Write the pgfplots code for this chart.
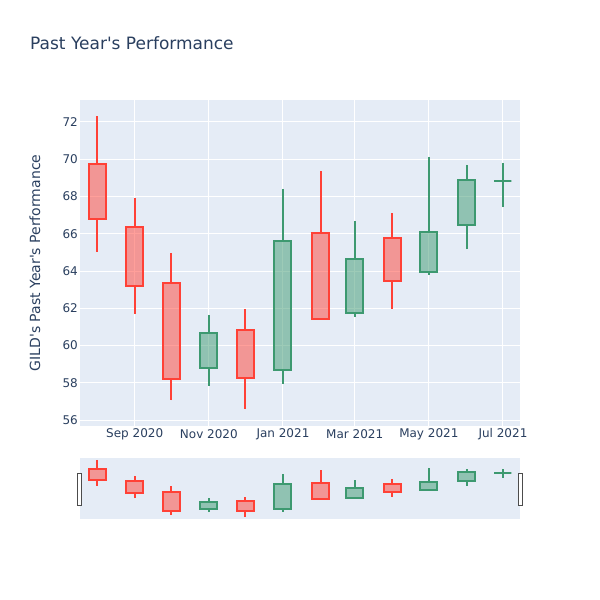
\documentclass[border=0pt]{standalone}
\usepackage{fontspec}
\setmainfont{DejaVu Sans}[Ligatures=TeXOff]
\usepackage{pgfplots}
\pgfplotsset{compat=1.18}
\usepgfplotslibrary{statistics}

\definecolor{bgc}{HTML}{E5ECF6}
\definecolor{txt}{HTML}{2A3F5F}
\definecolor{incr}{HTML}{3D9970}
\definecolor{decr}{HTML}{FF4136}

% color, position (days from 1 Aug 2020), low, box bottom, box top, high
\newcommand\candle[6]{%
  \addplot[#1, line width=2pt, fill=#1, fill opacity=0.5,
    boxplot/draw direction=y,
    boxplot prepared={draw position=#2, lower whisker=#3,
      lower quartile=#4, median=#4, upper quartile=#5,
      upper whisker=#6, box extend=14, whisker extend=0}]
    coordinates {};}

\newcommand\allcandles{%
  \candle{decr}{0}{65.03}{66.80}{69.76}{72.30}
  \candle{decr}{31}{61.68}{63.22}{66.36}{67.92}
  \candle{decr}{61}{57.06}{58.19}{63.37}{64.98}
  \candle{incr}{92}{57.85}{58.80}{60.66}{61.65}
  \candle{decr}{122}{56.57}{58.28}{60.84}{61.97}
  \candle{incr}{153}{57.95}{58.69}{65.59}{68.40}
  \candle{decr}{184}{61.40}{61.41}{66.04}{69.39}
  \candle{incr}{212}{61.52}{61.77}{64.64}{66.66}
  \candle{decr}{243}{61.97}{63.49}{65.77}{67.09}
  \candle{incr}{273}{63.80}{63.92}{66.10}{70.12}
  \candle{incr}{304}{65.16}{66.45}{68.87}{69.71}
  \candle{incr}{334}{67.41}{68.81}{68.81}{69.80}
}

\begin{document}
\begin{tikzpicture}
\path[fill=white] (0,0) rectangle (600pt,600pt);

\begin{axis}[
    at={(80pt,174pt)}, anchor=south west,
    width=440pt, height=326pt, scale only axis,
    xmin=-14, xmax=348,
    ymin=55.68, ymax=73.18,
    axis background/.style={fill=bgc},
    axis line style={draw=none},
    major tick length=0pt,
    xtick={31,92,153,212,273,334},
    xticklabels={Sep 2020,Nov 2020,Jan 2021,Mar 2021,May 2021,Jul 2021},
    ytick={56,58,...,72},
    grid=major,
    grid style={white, line width=1pt},
    /pgf/number format/assume math mode=true,
    tick label style={font=\fontsize{12}{14}\selectfont, text=txt},
    xticklabel style={anchor=center, yshift=-8pt, inner sep=0pt},
    yticklabel style={anchor=east, xshift=-2pt, inner sep=0pt},
    ylabel={GILD's Past Year's Performance},
    ylabel style={at={(axis description cs:0,0.5)}, anchor=center,
      yshift=45pt, font=\fontsize{14}{16}\selectfont, text=txt},
]
\allcandles
\end{axis}

\begin{axis}[
    at={(80pt,81pt)}, anchor=south west,
    width=440pt, height=61pt, scale only axis,
    xmin=-14, xmax=348,
    ymin=55.93, ymax=72.85,
    axis background/.style={fill=bgc},
    axis line style={draw=none},
    ticks=none,
]
\allcandles
\end{axis}

% range slider handles
\draw[fill=white, draw=black!70, line width=1pt] (77.5pt,94.5pt) rectangle (81.5pt,126.5pt);
\draw[fill=white, draw=black!70, line width=1pt] (518.5pt,94.5pt) rectangle (522.5pt,126.5pt);

\node[anchor=base west, inner sep=0pt, text=txt, font=\fontsize{17}{20}\selectfont]
  at (30pt,550pt) {Past Year's Performance};
\end{tikzpicture}
\end{document}
